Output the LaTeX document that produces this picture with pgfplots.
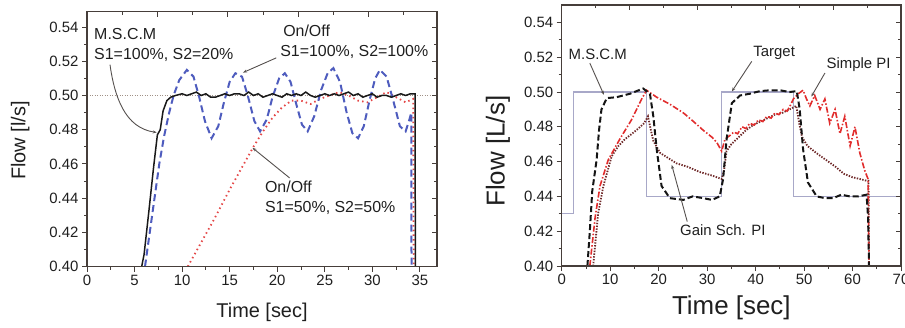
\documentclass[border=0pt]{standalone}
\usepackage{fontspec}
\setmainfont{Liberation Sans}
\usepackage{pgfplots}
\pgfplotsset{compat=1.18}
\usetikzlibrary{arrows.meta}
\definecolor{axcol}{RGB}{70,62,58}
\definecolor{onblue}{RGB}{78,92,190}
\definecolor{onred}{RGB}{228,70,70}
\definecolor{tgtgray}{RGB}{160,145,135}
\definecolor{tgtlav}{RGB}{168,168,200}
\definecolor{pired}{RGB}{225,45,45}
\definecolor{gsbrown}{RGB}{110,40,40}
\definecolor{annot}{RGB}{85,80,78}
\tikzset{
  annarrow/.style={draw=annot, line width=0.9bp, -{Stealth[length=4bp,width=3bp]}},
  anntext/.style={inner sep=0pt, anchor=west, align=left, text=black!88, font=\fontsize{15}{19.5}\selectfont},
  anntextL/.style={inner sep=0pt, anchor=west, align=left, text=black!88, font=\fontsize{16}{20}\selectfont},
}
\pgfplotsset{
  base/.style={
    scale only axis, anchor=south west,
    axis line style={draw=axcol, line width=1.1bp},
    tick style={draw=axcol, line width=0.8bp},
    major tick length=5bp, minor tick length=3bp,
    tick align=outside, xtick pos=left, ytick pos=left,
    ticklabel style={font=\fontsize{15}{15}\selectfont, text=black!88},
    /pgf/number format/assume math mode=true,
    yticklabel style={/pgf/number format/.cd, fixed, fixed zerofill, precision=2},
    ytick={0.40,0.42,0.44,0.46,0.48,0.50,0.52,0.54},
    minor y tick num=1,
    clip mode=individual,
  },
  mirror/.style={
    scale only axis, anchor=south west,
    axis line style={draw=axcol, line width=1.1bp},
    tick style={draw=axcol, line width=0.8bp},
    major tick length=5bp, minor tick length=3bp,
    tick align=inside, xtick pos=right, ytick pos=right,
    xticklabels={}, yticklabels={},
    ytick={0.40,0.42,0.44,0.46,0.48,0.50,0.52,0.54},
    minor y tick num=1,
  },
}
\begin{document}
\begin{tikzpicture}[x=1bp,y=1bp]
% ---------------- left chart ----------------
\begin{axis}[base, at={(87bp,60.5bp)}, width=350bp, height=254.8bp,
  xmin=0, xmax=36.8, ymin=0.40, ymax=0.549,
  xtick={0,5,10,15,20,25,30,35}, minor x tick num=1,
  xlabel={Time [sec]}, ylabel={Flow [l/s]},
  label style={font=\fontsize{20}{20}\selectfont, text=black!88},
  xlabel style={at={(axis description cs:0.5,-0.1786)}, anchor=center},
  ylabel style={at={(axis description cs:-0.191,0.494)}, anchor=center},
]
% target
\addplot[tgtgray, line width=0.9bp, dash pattern=on 1bp off 1.5bp] coordinates {(0,0.50) (36.8,0.50)};
% On/Off S1=50, S2=50
\addplot[onred, line width=1.8bp, dash pattern=on 1.5bp off 3.2bp] coordinates {
(10.6,0.400) (12.0,0.414) (13.5,0.429) (15.0,0.445) (16.5,0.460) (17.5,0.470) (18.5,0.479) (19.5,0.487)
(20.5,0.493) (21.5,0.497) (22.5,0.497) (23.5,0.495) (24.5,0.498) (25.5,0.500) (26.5,0.502) (27.5,0.500)
(28.5,0.497) (29.5,0.496) (30.5,0.499) (31.5,0.502) (32.5,0.499) (33.5,0.496) (34.3,0.498) (34.35,0.400)};
% On/Off S1=100, S2=100
\addplot[onblue, line width=2bp, dash pattern=on 7bp off 4bp] coordinates {
(6.1,0.400) (6.6,0.420) (7.1,0.440) (7.6,0.460) (8.1,0.476) (8.6,0.489) (9.1,0.500) (9.7,0.509)
(10.5,0.515) (11.2,0.511) (11.8,0.499) (12.4,0.485) (13.1,0.475) (13.8,0.482) (14.4,0.496) (15.0,0.508)
(15.6,0.513) (16.3,0.511) (16.9,0.500) (17.6,0.485) (18.2,0.479) (18.9,0.486) (19.5,0.499) (20.2,0.510)
(20.8,0.513) (21.4,0.508) (22.0,0.495) (22.6,0.483) (23.2,0.479) (23.9,0.488) (24.6,0.503) (25.3,0.513)
(25.9,0.516) (26.6,0.508) (27.3,0.490) (27.9,0.478) (28.5,0.475) (29.1,0.482) (29.7,0.497) (30.3,0.510)
(30.8,0.515) (31.5,0.511) (32.2,0.497) (32.9,0.482) (33.5,0.479) (33.9,0.486) (34.1,0.490) (34.12,0.400)};
% M.S.C.M
\addplot[black!90, line width=1.5bp] coordinates {
(5.75,0.400) (6.0,0.407) (6.5,0.432) (7.0,0.458) (7.4,0.477) (7.7,0.480) (8.0,0.491) (8.4,0.497)
(8.8,0.499) (9.3,0.500) (10.0,0.501) (10.5,0.500) (11.0,0.501) (11.5,0.502) (12.0,0.500) (12.5,0.501)
(13.0,0.499) (13.5,0.499) (14.0,0.500) (14.5,0.501) (15.0,0.500) (15.5,0.501) (16.0,0.501) (16.5,0.500)
(17.0,0.502) (17.5,0.500) (18.0,0.501) (18.5,0.499) (19.0,0.500) (19.5,0.501) (20.0,0.500) (20.5,0.499)
(21.0,0.501) (21.5,0.500) (22.0,0.501) (22.5,0.500) (23.0,0.502) (23.5,0.500) (24.0,0.499) (24.5,0.500)
(25.0,0.501) (25.5,0.500) (26.0,0.501) (26.5,0.500) (27.0,0.501) (27.5,0.502) (28.0,0.500) (28.5,0.501)
(29.0,0.499) (29.5,0.500) (30.0,0.501) (30.5,0.499) (31.0,0.500) (31.5,0.500) (32.0,0.499) (32.5,0.500)
(33.0,0.501) (33.5,0.500) (34.0,0.501) (34.5,0.501) (34.52,0.400)};
% annotations
\node[anntextL] at (axis cs:0.74,0.5298) {M.S.C.M\\S1=100\%, S2=20\%};
\draw[annarrow] (axis cs:2.42,0.518) to[out=-82,in=172] (axis cs:7.33,0.4784);
\node[anntextL] at (axis cs:20.3,0.5312) {\hspace*{3bp}On/Off\\S1=100\%, S2=100\%};
\draw[annarrow] (axis cs:19.9,0.522) -- (axis cs:16.4,0.5134);
\node[anntextL] at (axis cs:18.7,0.4401) {On/Off\\S1=50\%, S2=50\%};
\draw[annarrow] (axis cs:21.3,0.4518) -- (axis cs:17.4,0.4694);
\end{axis}
\begin{axis}[mirror, at={(87bp,60.5bp)}, width=350bp, height=254.8bp,
  xmin=0, xmax=36.8, ymin=0.40, ymax=0.549,
  xtick={7.4,14.8,22.2,29.6}, minor xtick={3.7,11.1,18.5,25.9,33.3}]
\end{axis}
% ---------------- right chart ----------------
\begin{axis}[base, at={(561.7bp,61bp)}, width=339.3bp, height=261bp,
  xmin=0, xmax=70, ymin=0.40, ymax=0.55,
  xtick={0,10,20,30,40,50,60,70}, minor x tick num=1,
  xlabel={Time [sec]}, ylabel={Flow [L/s]},
  label style={font=\fontsize{26}{26}\selectfont, text=black!88},
  xlabel style={at={(axis description cs:0.5,-0.161)}, anchor=center},
  ylabel style={at={(axis description cs:-0.188,0.44)}, anchor=center},
]
% target
\addplot[tgtlav, line width=1.3bp] coordinates {
(0,0.43) (2.5,0.43) (2.5,0.50) (17.5,0.50) (17.5,0.44) (33.0,0.44) (33.0,0.50) (47.8,0.50) (47.8,0.44) (70,0.44)};
% Gain Sch. PI
\addplot[gsbrown, line width=1.8bp, dash pattern=on 1.4bp off 1.4bp] coordinates {
(6.5,0.400) (7.5,0.430) (8.6,0.446) (10.3,0.463) (11.7,0.469) (13.1,0.473) (14.5,0.476) (15.8,0.479)
(17.0,0.482) (17.8,0.486) (18.4,0.478) (18.9,0.472) (20.3,0.465) (22.0,0.462) (23.7,0.459) (26.0,0.457)
(28.5,0.454) (31.0,0.452) (33.0,0.450) (33.5,0.455) (34.0,0.466) (35.0,0.470) (36.5,0.474) (38.0,0.478)
(39.5,0.481) (41.0,0.483) (42.5,0.485) (44.0,0.487) (45.5,0.488) (47.0,0.490) (48.4,0.492) (49.0,0.482)
(49.6,0.474) (50.7,0.469) (52.5,0.465) (54.5,0.461) (56.5,0.457) (58.2,0.453) (60.0,0.451) (61.5,0.450)
(62.9,0.449) (63.3,0.449) (63.4,0.400)};
% Simple PI
\addplot[pired, line width=1.6bp, dash pattern=on 6bp off 2bp on 1.5bp off 2bp] coordinates {
(5.8,0.400) (6.9,0.428) (7.9,0.446) (9.6,0.461) (12.0,0.473) (14.4,0.484) (16.5,0.496) (17.5,0.501)
(19.6,0.497) (22.3,0.493) (25.1,0.488) (27.2,0.483) (29.2,0.478) (31.0,0.474) (32.0,0.471) (33.0,0.466)
(33.7,0.473) (34.7,0.475) (35.5,0.477) (36.3,0.476) (37.2,0.480) (38.0,0.479) (38.8,0.482) (39.7,0.481)
(40.6,0.484) (41.5,0.483) (42.3,0.486) (43.2,0.485) (44.0,0.488) (44.8,0.487) (45.7,0.490) (46.5,0.489)
(47.3,0.493) (47.8,0.496) (48.8,0.499) (49.8,0.501) (50.5,0.496) (51.2,0.492) (52.2,0.498) (53.3,0.490)
(54.3,0.496) (55.3,0.482) (56.4,0.490) (57.4,0.476) (58.4,0.486) (59.5,0.469) (60.5,0.480) (61.5,0.465)
(62.5,0.455) (63.2,0.450) (63.4,0.400)};
% M.S.C.M
\addplot[black!92, line width=2bp, dash pattern=on 6bp off 3bp] coordinates {
(5.3,0.400) (5.8,0.420) (6.3,0.443) (7.2,0.461) (7.7,0.478) (8.2,0.490) (9.3,0.4965) (11.3,0.497)
(14.1,0.499) (16.8,0.502) (18.2,0.499) (18.9,0.486) (19.6,0.467) (20.6,0.446) (22.3,0.439) (25.1,0.438)
(27.0,0.440) (29.2,0.439) (31.0,0.438) (32.6,0.440) (33.3,0.450) (34.0,0.4725) (35.1,0.4936) (36.8,0.498)
(38.8,0.499) (40.9,0.5005) (43.0,0.501) (45.0,0.501) (47.0,0.500) (48.5,0.5005) (49.1,0.490) (49.8,0.467)
(50.8,0.448) (52.6,0.440) (54.3,0.439) (56.0,0.439) (57.7,0.441) (59.4,0.440) (61.2,0.440) (62.9,0.441)
(63.2,0.428) (63.4,0.400)};
% annotations
\node[anntext] at (axis cs:1.4,0.5214) {M.S.C.M};
\draw[annarrow] (axis cs:5.8,0.5166) -- (axis cs:8.7,0.4984);
\node[anntext] at (axis cs:39.5,0.5224) {Target};
\draw[annarrow] (axis cs:39.2,0.5176) -- (axis cs:35.1,0.5003);
\node[anntext] at (axis cs:54.6,0.5157) {Simple PI};
\draw[annarrow] (axis cs:54.3,0.5109) -- (axis cs:51.5,0.4974);
\node[anntext] at (axis cs:24.4,0.4207) {Gain Sch. PI};
\draw[annarrow] (axis cs:25.9,0.4255) -- (axis cs:22.7,0.4581);
\end{axis}
\begin{axis}[mirror, at={(561.7bp,61bp)}, width=339.3bp, height=261bp,
  xmin=0, xmax=70, ymin=0.40, ymax=0.55,
  xtick={14,28,42,56}, minor xtick={7,21,35,49,63}]
\end{axis}
\pgfresetboundingbox
\useasboundingbox (0,0) rectangle (905,327);
\end{tikzpicture}
\end{document}
